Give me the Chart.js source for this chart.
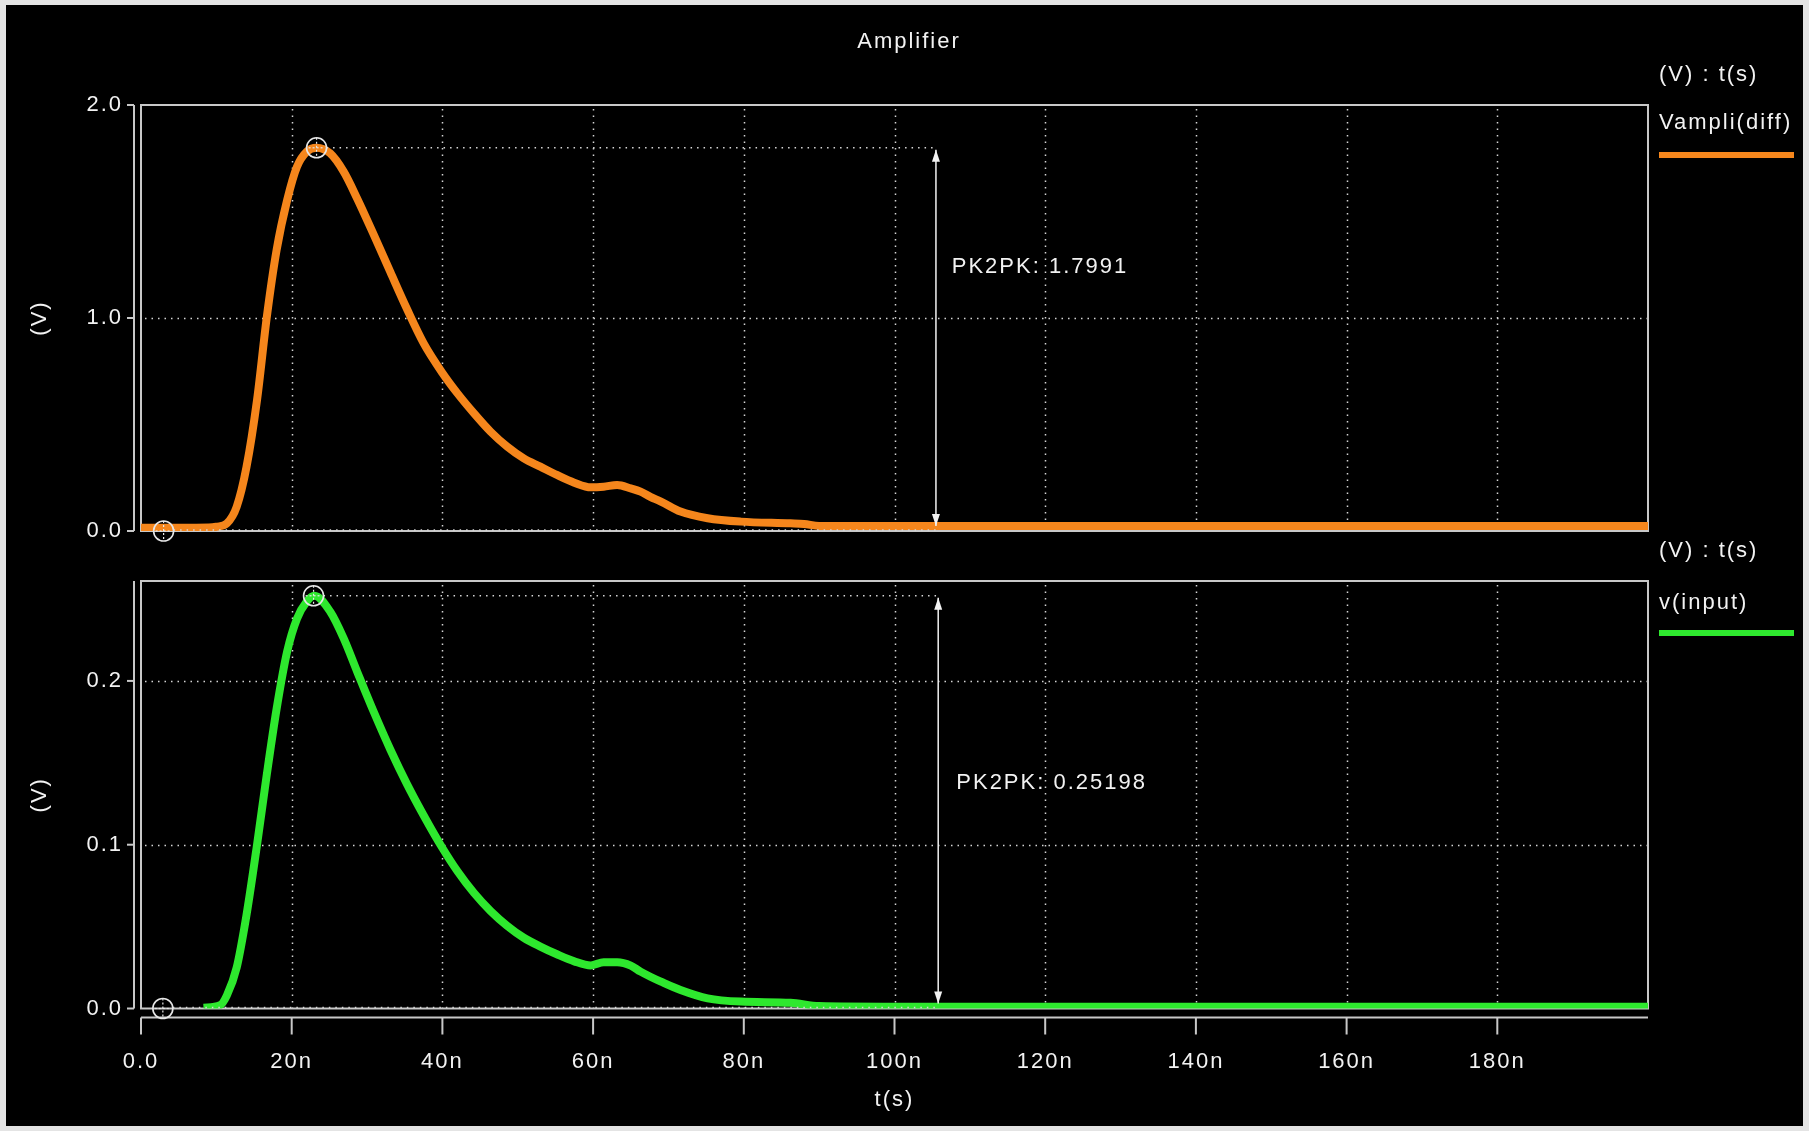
<!DOCTYPE html>
<html><head><meta charset="utf-8">
<script src="https://cdn.jsdelivr.net/npm/chart.js@4.4.0/dist/chart.umd.min.js"></script>
<style>
html,body{margin:0;padding:0;background:#e4e4e4;width:1809px;height:1131px;overflow:hidden}
#frame{position:absolute;left:6px;top:5px;width:1797px;height:1121px;background:#000}
canvas{position:absolute;left:0;top:0}
</style></head><body>
<div id="frame"></div>
<canvas id="c1" width="1809" height="1131"></canvas>
<canvas id="c2" width="1809" height="1131"></canvas>
<script>
// ---- data (time in ns) ----
const timeTop = [0, 5, 9, 10, 11.4, 12.7, 14.0, 15.4, 16.7, 18.0, 19.4, 20.7, 22.0, 23.3, 25.1, 26.9, 28.7, 30.9, 33.1, 35.3, 37.5, 40.0, 42.0, 44.2, 46.4, 48.6, 50.8, 53.0, 55.2, 57.5, 59.7, 61.4, 63.2, 65.0, 66.3, 67.6, 69.0, 71.6, 75.2, 79.6, 86.2, 88, 90, 100, 120, 150, 200];
const vampliDiff = [0.015, 0.015, 0.016, 0.02, 0.036, 0.114, 0.30, 0.615, 1.006, 1.32, 1.554, 1.71, 1.781, 1.799, 1.773, 1.687, 1.56, 1.39, 1.215, 1.042, 0.882, 0.742, 0.646, 0.552, 0.466, 0.396, 0.341, 0.302, 0.263, 0.227, 0.205, 0.208, 0.216, 0.20, 0.185, 0.16, 0.138, 0.091, 0.060, 0.044, 0.036, 0.033, 0.024, 0.023, 0.023, 0.023, 0.023];
const timeBottom = [8.3, 10.5, 11.4, 12.7, 14.0, 15.4, 16.7, 18.0, 19.4, 20.7, 22.0, 23.0, 25.1, 26.9, 28.7, 30.9, 33.1, 35.3, 37.5, 40.0, 42.0, 44.2, 46.4, 48.6, 50.8, 53.0, 55.2, 57.5, 59.7, 61.4, 63.2, 65.0, 66.3, 67.6, 69.0, 71.6, 75.2, 79.6, 86.2, 90, 100, 150, 200];
const vInput = [0.0005, 0.002, 0.008, 0.025, 0.057, 0.100, 0.143, 0.183, 0.218, 0.238, 0.2485, 0.252, 0.2424, 0.226, 0.2055, 0.181, 0.158, 0.137, 0.118, 0.098, 0.0838, 0.0705, 0.0595, 0.0505, 0.0432, 0.0378, 0.0331, 0.0288, 0.0263, 0.0282, 0.0282, 0.0262, 0.0225, 0.0194, 0.0164, 0.0113, 0.0062, 0.0042, 0.0035, 0.0015, 0.0011, 0.0011, 0.0011];
const xTicks = [0, 20, 40, 60, 80, 100, 120, 140, 160, 180];
const xTickLabels = ['0.0', '20n', '40n', '60n', '80n', '100n', '120n', '140n', '160n', '180n'];
const yTicksTop = [0, 1, 2];
const yTicksBottom = [0, 0.1, 0.2];
const topPeak = [23.3, 1.7991];
const topMin = [3.0, 0];
const bottomPeak = [22.9, 0.25198];
const bottomMin = [2.9, 0];
const topLabel = 'PK2PK: 1.7991';
const bottomLabel = 'PK2PK: 0.25198';

const ORANGE = '#f5861c';
const GREEN = '#2ee82e';
const TXT = '#f2f2f2';
const FONT = '"Liberation Sans", Arial, sans-serif';

function txt(ctx, s, x, y, align, size) {
  ctx.save();
  ctx.letterSpacing = '2px';
  ctx.font = size + 'px ' + FONT;
  ctx.fillStyle = TXT;
  ctx.textAlign = align; ctx.textBaseline = 'middle';
  ctx.fillText(s, x, y);
  ctx.restore();
}

function marker(ctx, cx, cy) {
  ctx.save();
  ctx.strokeStyle = '#e6e6e6'; ctx.lineWidth = 1.6; ctx.setLineDash([]);
  ctx.beginPath(); ctx.arc(cx, cy, 10, 0, Math.PI * 2); ctx.stroke();
  ctx.setLineDash([2, 2]); ctx.lineWidth = 1.2;
  ctx.beginPath(); ctx.moveTo(cx, cy - 10); ctx.lineTo(cx, cy + 10); ctx.stroke();
  ctx.beginPath(); ctx.moveTo(cx - 8, cy); ctx.lineTo(cx + 8, cy); ctx.stroke();
  ctx.restore();
}

function decor(cfg) {
  return {
    id: 'decor',
    beforeInit(chart) { chart.ctx.letterSpacing = '2px'; },
    beforeDraw(chart) { chart.ctx.letterSpacing = '2px'; },
    beforeDatasetsDraw(chart) {
      const {ctx, chartArea: a, scales: {x, y}} = chart;
      ctx.save();
      ctx.strokeStyle = '#d4d4d4'; ctx.lineWidth = 1.5; ctx.setLineDash([1.5, 5]);
      xTicks.forEach(v => {
        if (v <= x.min || v >= x.max) return;
        const px = Math.round(x.getPixelForValue(v)) + 0.5;
        ctx.beginPath(); ctx.moveTo(px, a.top + 4); ctx.lineTo(px, a.bottom); ctx.stroke();
      });
      cfg.yTicks.forEach(v => {
        if (v <= y.min || v >= y.max) return;
        const py = Math.round(y.getPixelForValue(v)) + 0.5;
        ctx.beginPath(); ctx.moveTo(a.left + 4, py); ctx.lineTo(a.right, py); ctx.stroke();
      });
      ctx.setLineDash([]); ctx.strokeStyle = '#c8c8c8'; ctx.lineWidth = 2;
      ctx.strokeRect(a.left, a.top, a.right - a.left, a.bottom - a.top);
      const ax = a.left - 7;
      ctx.beginPath(); ctx.moveTo(ax, a.top); ctx.lineTo(ax, y.getPixelForValue(0)); ctx.stroke();
      cfg.yTicks.forEach(v => {
        const py = y.getPixelForValue(v);
        ctx.beginPath(); ctx.moveTo(ax, py); ctx.lineTo(ax - 7, py); ctx.stroke();
      });
      if (cfg.xAxis) {
        const ay = a.bottom + 9;
        ctx.beginPath(); ctx.moveTo(a.left, ay); ctx.lineTo(a.right, ay); ctx.stroke();
        xTicks.forEach(v => {
          const px = x.getPixelForValue(v);
          ctx.beginPath(); ctx.moveTo(px, ay); ctx.lineTo(px, ay + 17); ctx.stroke();
        });
      }
      ctx.restore();
    },
    afterDatasetsDraw(chart) {
      const {ctx, chartArea: a, scales: {x, y}} = chart;
      const pk = cfg.peak, mn = cfg.min;
      const pkx = x.getPixelForValue(pk[0]), pky = y.getPixelForValue(pk[1]);
      const mnx = x.getPixelForValue(mn[0]), mny = y.getPixelForValue(mn[1]);
      const arx = x.getPixelForValue(cfg.arrowT);
      ctx.save();
      ctx.strokeStyle = '#d8d8d8'; ctx.lineWidth = 1.5; ctx.setLineDash([1.5, 5]);
      ctx.beginPath(); ctx.moveTo(pkx + 10, pky); ctx.lineTo(arx, pky); ctx.stroke();
      ctx.beginPath(); ctx.moveTo(mnx + 10, mny - 1); ctx.lineTo(arx, mny - 1); ctx.stroke();
      ctx.setLineDash([]); ctx.strokeStyle = '#f2f2f2'; ctx.fillStyle = '#f2f2f2'; ctx.lineWidth = 1.5;
      const y1 = pky + 2, y2 = mny - 5;
      ctx.beginPath(); ctx.moveTo(arx, y1); ctx.lineTo(arx, y2); ctx.stroke();
      ctx.beginPath(); ctx.moveTo(arx, y1); ctx.lineTo(arx - 4, y1 + 12); ctx.lineTo(arx + 4, y1 + 12); ctx.closePath(); ctx.fill();
      ctx.beginPath(); ctx.moveTo(arx, y2); ctx.lineTo(arx - 4, y2 - 12); ctx.lineTo(arx + 4, y2 - 12); ctx.closePath(); ctx.fill();
      ctx.restore();
      marker(ctx, pkx, pky);
      marker(ctx, mnx, mny);
      txt(ctx, cfg.label, x.getPixelForValue(cfg.labelPos[0]), y.getPixelForValue(cfg.labelPos[1]) + 2, 'left', 22);
      const lx = a.right + 11;
      txt(ctx, '(V) : t(s)', lx, a.top - 30, 'left', 22);
      txt(ctx, cfg.name, lx, a.top + cfg.nameDy, 'left', 22);
      ctx.save();
      ctx.strokeStyle = cfg.color; ctx.lineWidth = 6;
      ctx.beginPath(); ctx.moveTo(lx, a.top + cfg.lineDy); ctx.lineTo(lx + 135, a.top + cfg.lineDy); ctx.stroke();
      ctx.restore();
      if (cfg.title) txt(ctx, cfg.title, 909, 42, 'center', 22);
    }
  };
}

function yScale(max, ticks) {
  return {
    type: 'linear', min: 0, max: max,
    grid: {display: false}, border: {display: false},
    afterBuildTicks: s => { s.ticks = ticks.map(v => ({value: v})); },
    ticks: {callback: v => Number(v).toFixed(1), padding: 10, color: TXT, font: {family: FONT, size: 22}},
    title: {display: true, text: '(V)', color: TXT, font: {family: FONT, size: 22}, padding: {top: 27, bottom: 0}},
    afterFit: s => { s.width = 141; }
  };
}

Chart.defaults.font.family = FONT;

new Chart(document.getElementById('c1'), {
  type: 'line',
  data: {datasets: [{
    label: 'Vampli(diff)',
    data: timeTop.map((t, i) => ({x: t, y: vampliDiff[i]})),
    borderColor: ORANGE, borderWidth: 8, pointRadius: 0, cubicInterpolationMode: 'monotone', fill: false
  }]},
  options: {
    responsive: false, animation: false, devicePixelRatio: 1,
    layout: {padding: {left: 0, top: 105, right: 161, bottom: 600}},
    plugins: {legend: {display: false}, tooltip: {enabled: false}},
    scales: {
      x: {type: 'linear', min: 0, max: 200, grid: {display: false}, border: {display: false},
          ticks: {display: false}, afterBuildTicks: s => { s.ticks = xTicks.map(v => ({value: v})); },
          afterFit: s => { s.height = 0; }},
      y: yScale(2, yTicksTop)
    }
  },
  plugins: [decor({yTicks: yTicksTop, xAxis: false, peak: topPeak, min: topMin, arrowT: 105.5,
    label: topLabel, labelPos: [107.6, 1.25], name: 'Vampli(diff)', nameDy: 18, lineDy: 50, color: ORANGE, title: 'Amplifier'})]
});

new Chart(document.getElementById('c2'), {
  type: 'line',
  data: {datasets: [{
    label: 'v(input)',
    data: timeBottom.map((t, i) => ({x: t, y: vInput[i]})),
    borderColor: GREEN, borderWidth: 8, pointRadius: 0, cubicInterpolationMode: 'monotone', fill: false
  }]},
  options: {
    responsive: false, animation: false, devicePixelRatio: 1,
    layout: {padding: {left: 0, top: 581, right: 161, bottom: 0}},
    plugins: {legend: {display: false}, tooltip: {enabled: false}},
    scales: {
      x: {type: 'linear', min: 0, max: 200, grid: {display: false}, border: {display: false},
          afterBuildTicks: s => { s.ticks = xTicks.map(v => ({value: v})); },
          ticks: {callback: v => xTickLabels[xTicks.indexOf(v)], padding: 32, maxRotation: 0, autoSkip: false, color: TXT, font: {family: FONT, size: 22}},
          title: {display: true, text: 't(s)', color: TXT, font: {family: FONT, size: 22}, padding: {top: 0, bottom: 18}},
          afterFit: s => { s.height = 122.5; }},
      y: yScale(0.261, yTicksBottom)
    }
  },
  plugins: [decor({yTicks: yTicksBottom, xAxis: true, peak: bottomPeak, min: bottomMin, arrowT: 105.8,
    label: bottomLabel, labelPos: [108.2, 0.139], name: 'v(input)', nameDy: 22, lineDy: 52, color: GREEN})]
});
</script>
</body></html>
